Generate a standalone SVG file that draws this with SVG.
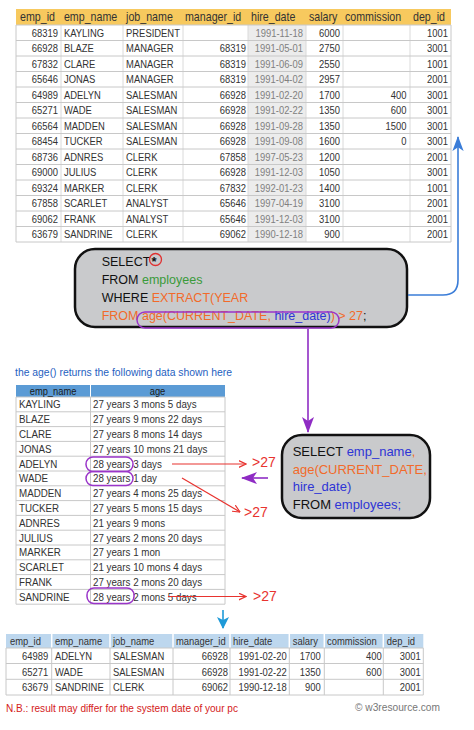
<svg xmlns="http://www.w3.org/2000/svg" width="474" height="730" viewBox="0 0 474 730">
<style>
text{font-family:"Liberation Sans",Arial,sans-serif;fill:#333}
.t1{font-size:11.5px}
.h1{font-size:13px}
.r{text-anchor:end}
.c{text-anchor:middle}
.g{fill:#808080}
.grid{stroke:#c8c8c8;stroke-width:1;fill:none}
.vgrid{stroke:#dadada;stroke-width:1}
.sql{font-size:12.5px;fill:#111}
.sql2{font-size:13px;fill:#111}
.or{fill:#f26a2a}
.bl{fill:#2e35d6}
.gr{fill:#3a9a3a}
.bk{fill:#111}
.red{fill:#e8332f;font-size:14px}
.box{fill:#c9cacc;stroke:#111;stroke-width:2.5}
.pur{fill:none;stroke:#9a35c9;stroke-width:1.5}
</style>
<defs>
<marker id="hb" viewBox="0 0 16 12" refX="15" refY="6" markerWidth="15" markerHeight="12" markerUnits="userSpaceOnUse" orient="auto"><path d="M0,0 L16,6 L0,12 L4,6 z" fill="#3b7dd8"/></marker>
<marker id="hp" viewBox="0 0 16 12" refX="15" refY="6" markerWidth="16" markerHeight="12" markerUnits="userSpaceOnUse" orient="auto"><path d="M0,0 L16,6 L0,12 L4,6 z" fill="#8f2cc4"/></marker>
<marker id="hr" viewBox="0 0 8 8" refX="7.5" refY="4" markerWidth="8" markerHeight="8" markerUnits="userSpaceOnUse" orient="auto"><path d="M0,0.5 L7.5,4 L0,7.5" fill="none" stroke="#e8332f" stroke-width="1.2"/></marker>
<marker id="hl" viewBox="0 0 12 12" refX="11" refY="6" markerWidth="12" markerHeight="12" markerUnits="userSpaceOnUse" orient="auto"><path d="M0,0 L12,6 L0,12 L3,6 z" fill="#1e9ad8"/></marker>
</defs>
<rect width="474" height="730" fill="#fff"/>

<g id="employees-table">
<rect x="16" y="9" width="435" height="16" fill="#f7c95e"/>
<rect x="248" y="25" width="58" height="217" fill="#ececec"/>
<g class="vgrid">
<line x1="61" y1="25" x2="61" y2="242"/><line x1="123" y1="25" x2="123" y2="242"/><line x1="183" y1="25" x2="183" y2="242"/><line x1="248" y1="25" x2="248" y2="242"/><line x1="306" y1="25" x2="306" y2="242"/><line x1="343" y1="25" x2="343" y2="242"/><line x1="410" y1="25" x2="410" y2="242"/>
</g>
<path class="grid" d="M16,25H451M16,40.5H451M16,56H451M16,71.5H451M16,87H451M16,102.5H451M16,118H451M16,133.5H451M16,149H451M16,164.5H451M16,180H451M16,195.5H451M16,211H451M16,226.5H451M16,242H451M16,25V242M451,25V242"/>
<g transform="scale(0.82 1)">
<g class="h1">
<text x="24.4" y="21">emp_id</text><text x="78" y="21">emp_name</text><text x="153.7" y="21">job_name</text><text x="225.6" y="21">manager_id</text><text x="306.1" y="21">hire_date</text><text x="376.8" y="21">salary</text><text x="420.7" y="21">commission</text><text x="503.7" y="21">dep_id</text>
</g>
<g class="t1">
<g transform="translate(0,36.5)"><text class="r" x="70.7">68319</text><text x="78">KAYLING</text><text x="153.7">PRESIDENT</text><text class="r g" x="369.5">1991-11-18</text><text class="r" x="414.6">6000</text><text class="r" x="546.3">1001</text></g>
<g transform="translate(0,52)"><text class="r" x="70.7">66928</text><text x="78">BLAZE</text><text x="153.7">MANAGER</text><text class="r" x="300">68319</text><text class="r g" x="369.5">1991-05-01</text><text class="r" x="414.6">2750</text><text class="r" x="546.3">3001</text></g>
<g transform="translate(0,67.5)"><text class="r" x="70.7">67832</text><text x="78">CLARE</text><text x="153.7">MANAGER</text><text class="r" x="300">68319</text><text class="r g" x="369.5">1991-06-09</text><text class="r" x="414.6">2550</text><text class="r" x="546.3">1001</text></g>
<g transform="translate(0,83)"><text class="r" x="70.7">65646</text><text x="78">JONAS</text><text x="153.7">MANAGER</text><text class="r" x="300">68319</text><text class="r g" x="369.5">1991-04-02</text><text class="r" x="414.6">2957</text><text class="r" x="546.3">2001</text></g>
<g transform="translate(0,98.5)"><text class="r" x="70.7">64989</text><text x="78">ADELYN</text><text x="153.7">SALESMAN</text><text class="r" x="300">66928</text><text class="r g" x="369.5">1991-02-20</text><text class="r" x="414.6">1700</text><text class="r" x="495.7">400</text><text class="r" x="546.3">3001</text></g>
<g transform="translate(0,114)"><text class="r" x="70.7">65271</text><text x="78">WADE</text><text x="153.7">SALESMAN</text><text class="r" x="300">66928</text><text class="r g" x="369.5">1991-02-22</text><text class="r" x="414.6">1350</text><text class="r" x="495.7">600</text><text class="r" x="546.3">3001</text></g>
<g transform="translate(0,129.5)"><text class="r" x="70.7">66564</text><text x="78">MADDEN</text><text x="153.7">SALESMAN</text><text class="r" x="300">66928</text><text class="r g" x="369.5">1991-09-28</text><text class="r" x="414.6">1350</text><text class="r" x="495.7">1500</text><text class="r" x="546.3">3001</text></g>
<g transform="translate(0,145)"><text class="r" x="70.7">68454</text><text x="78">TUCKER</text><text x="153.7">SALESMAN</text><text class="r" x="300">66928</text><text class="r g" x="369.5">1991-09-08</text><text class="r" x="414.6">1600</text><text class="r" x="495.7">0</text><text class="r" x="546.3">3001</text></g>
<g transform="translate(0,160.5)"><text class="r" x="70.7">68736</text><text x="78">ADNRES</text><text x="153.7">CLERK</text><text class="r" x="300">67858</text><text class="r g" x="369.5">1997-05-23</text><text class="r" x="414.6">1200</text><text class="r" x="546.3">2001</text></g>
<g transform="translate(0,176)"><text class="r" x="70.7">69000</text><text x="78">JULIUS</text><text x="153.7">CLERK</text><text class="r" x="300">66928</text><text class="r g" x="369.5">1991-12-03</text><text class="r" x="414.6">1050</text><text class="r" x="546.3">3001</text></g>
<g transform="translate(0,191.5)"><text class="r" x="70.7">69324</text><text x="78">MARKER</text><text x="153.7">CLERK</text><text class="r" x="300">67832</text><text class="r g" x="369.5">1992-01-23</text><text class="r" x="414.6">1400</text><text class="r" x="546.3">1001</text></g>
<g transform="translate(0,207)"><text class="r" x="70.7">67858</text><text x="78">SCARLET</text><text x="153.7">ANALYST</text><text class="r" x="300">65646</text><text class="r g" x="369.5">1997-04-19</text><text class="r" x="414.6">3100</text><text class="r" x="546.3">2001</text></g>
<g transform="translate(0,222.5)"><text class="r" x="70.7">69062</text><text x="78">FRANK</text><text x="153.7">ANALYST</text><text class="r" x="300">65646</text><text class="r g" x="369.5">1991-12-03</text><text class="r" x="414.6">3100</text><text class="r" x="546.3">2001</text></g>
<g transform="translate(0,238)"><text class="r" x="70.7">63679</text><text x="78">SANDRINE</text><text x="153.7">CLERK</text><text class="r" x="300">69062</text><text class="r g" x="369.5">1990-12-18</text><text class="r" x="414.6">900</text><text class="r" x="546.3">2001</text></g>
</g>
</g>
</g>

<g id="query-main">
<rect class="box" x="75" y="249" width="332" height="78" rx="20"/>
<text class="sql" x="101.7" y="266">SELECT<tspan x="151.5" style="font-size:13px;font-weight:bold">*</tspan></text>
<circle cx="155.5" cy="259.5" r="6" fill="none" stroke="#e03030" stroke-width="1.3"/>
<text class="sql" x="101.7" y="284">FROM <tspan class="gr">employees</tspan></text>
<text class="sql" x="101.7" y="302">WHERE <tspan class="or">EXTRACT(YEAR</tspan></text>
<text class="sql" x="101.7" y="320"><tspan class="or">FROM age(CURRENT_DATE, </tspan><tspan class="bl">hire_date)</tspan><tspan class="or">) &gt; 27</tspan><tspan class="bk">;</tspan></text>
<rect class="pur" x="137" y="312" width="202" height="16" rx="8"/>
</g>

<g id="age-table">
<text x="15" y="376" style="font-size:11.5px;fill:#1f5fbf" textLength="217" lengthAdjust="spacingAndGlyphs">the age() returns the following data shown here</text>
<rect x="16" y="385" width="74" height="12" fill="#5b9bd5"/>
<rect x="91" y="385" width="134" height="12" fill="#5b9bd5"/>
<path class="grid" d="M16,397H225M16,411.8H225M16,426.6H225M16,441.4H225M16,456.2H225M16,471H225M16,485.8H225M16,500.6H225M16,515.4H225M16,530.2H225M16,545H225M16,559.8H225M16,574.6H225M16,589.4H225M16,604.2H225M16,397V604.2M90.5,397V604.2M225,397V604.2"/>
<g transform="scale(0.85 1)" style="font-size:11.5px">
<text class="c" x="62.4" y="395" style="font-size:11px;fill:#1a1a1a">emp_name</text><text class="c" x="185.3" y="395" style="font-size:11px;fill:#1a1a1a">age</text>
<text x="22.4" y="408.5">KAYLING</text><text x="109.4" y="408.5">27 years 3 mons 5 days</text>
<text x="22.4" y="423.3">BLAZE</text><text x="109.4" y="423.3">27 years 9 mons 22 days</text>
<text x="22.4" y="438.1">CLARE</text><text x="109.4" y="438.1">27 years 8 mons 14 days</text>
<text x="22.4" y="452.9">JONAS</text><text x="109.4" y="452.9">27 years 10 mons 21 days</text>
<text x="22.4" y="467.7">ADELYN</text><text x="109.4" y="467.7">28 years 3 days</text>
<text x="22.4" y="482.5">WADE</text><text x="109.4" y="482.5">28 years 1 day</text>
<text x="22.4" y="497.3">MADDEN</text><text x="109.4" y="497.3">27 years 4 mons 25 days</text>
<text x="22.4" y="512.1">TUCKER</text><text x="109.4" y="512.1">27 years 5 mons 15 days</text>
<text x="22.4" y="526.9">ADNRES</text><text x="109.4" y="526.9">21 years 9 mons</text>
<text x="22.4" y="541.7">JULIUS</text><text x="109.4" y="541.7">27 years 2 mons 20 days</text>
<text x="22.4" y="556.5">MARKER</text><text x="109.4" y="556.5">27 years 1 mon</text>
<text x="22.4" y="571.3">SCARLET</text><text x="109.4" y="571.3">21 years 10 mons 4 days</text>
<text x="22.4" y="586.1">FRANK</text><text x="109.4" y="586.1">27 years 2 mons 20 days</text>
<text x="22.4" y="600.9">SANDRINE</text><text x="109.4" y="600.9">28 years 2 mons 5 days</text>
</g>
<rect class="pur" x="86" y="457" width="47" height="14.5" rx="7"/>
<rect class="pur" x="86" y="471.5" width="47" height="14" rx="7"/>
<rect class="pur" x="87" y="588" width="47" height="15.5" rx="7"/>
</g>

<g id="query-age">
<rect class="box" x="282" y="435" width="148" height="83" rx="20"/>
<text class="sql2" x="292.7" y="456">SELECT <tspan class="bl">emp_name</tspan><tspan class="or">,</tspan></text>
<text class="sql2 or" x="292.7" y="473.5">age(CURRENT_DATE,</text>
<text class="sql2 bl" x="292.7" y="491">hire_date)</text>
<text class="sql2" x="292.7" y="509">FROM <tspan class="bl">employees;</tspan></text>
</g>

<g id="labels">
<text class="red" x="252" y="467">&gt;27</text>
<text class="red" x="244" y="517">&gt;27</text>
<text class="red" x="253" y="601">&gt;27</text>
</g>

<g id="result-table">
<rect x="6" y="634" width="417.3" height="14" fill="#bdd7ee"/>
<path d="M51.7,634V648M110,634V648M173,634V648M230,634V648M289.3,634V648M324.3,634V648M383.3,634V648" stroke="#fff" stroke-width="1.5"/>
<path class="grid" d="M6,648H423.3M6,663.5H423.3M6,679.3H423.3M6,695H423.3M6,648V695M51.7,648V695M110,648V695M173,648V695M230,648V695M289.3,648V695M324.3,648V695M383.3,648V695M423.3,648V695"/>
<g transform="scale(0.82 1)" style="font-size:11.5px">
<g style="fill:#1a1a1a">
<text x="12.2" y="645">emp_id</text><text x="67.1" y="645">emp_name</text><text x="137.8" y="645">job_name</text><text x="214.6" y="645">manager_id</text><text x="284.1" y="645">hire_date</text><text x="357" y="645">salary</text><text x="398.8" y="645">commission</text><text x="471.6" y="645">dep_id</text>
</g>
<g transform="translate(0,659.8)"><text class="r" x="58.9">64989</text><text x="67.1">ADELYN</text><text x="137.8">SALESMAN</text><text class="r" x="278">66928</text><text class="r" x="349.6">1991-02-20</text><text class="r" x="391.1">1700</text><text class="r" x="465.5">400</text><text class="r" x="513">3001</text></g>
<g transform="translate(0,675.5)"><text class="r" x="58.9">65271</text><text x="67.1">WADE</text><text x="137.8">SALESMAN</text><text class="r" x="278">66928</text><text class="r" x="349.6">1991-02-22</text><text class="r" x="391.1">1350</text><text class="r" x="465.5">600</text><text class="r" x="513">3001</text></g>
<g transform="translate(0,691)"><text class="r" x="58.9">63679</text><text x="67.1">SANDRINE</text><text x="137.8">CLERK</text><text class="r" x="278">69062</text><text class="r" x="349.6">1990-12-18</text><text class="r" x="391.1">900</text><text class="r" x="513">2001</text></g>
</g>
</g>

<g id="notes">
<text x="6" y="711.5" style="font-size:11.5px;fill:#d42020" textLength="232" lengthAdjust="spacingAndGlyphs">N.B.: result may differ for the system date of your pc</text>
<text x="355" y="711" style="font-size:11px;fill:#777" textLength="85" lengthAdjust="spacingAndGlyphs">© w3resource.com</text>
</g>

<g id="connectors" fill="none">
<path d="M408,295 H443 Q458,295 458,280 V137" stroke="#3b7dd8" stroke-width="1.6" marker-end="url(#hb)"/>
<path d="M308,329 V432" stroke="#8f2cc4" stroke-width="1.6" marker-end="url(#hp)"/>
<path d="M268,478 H242" stroke="#8f2cc4" stroke-width="1.6" marker-end="url(#hp)"/>
<path d="M172,464 H246" stroke="#e8332f" stroke-width="1.2" marker-end="url(#hr)"/>
<path d="M182,478 L240,512" stroke="#e8332f" stroke-width="1.2" marker-end="url(#hr)"/>
<path d="M168,596.5 H246" stroke="#e8332f" stroke-width="1.2" marker-end="url(#hr)"/>
<path d="M223,610 V628" stroke="#1e9ad8" stroke-width="1.6" marker-end="url(#hl)"/>
</g>
</svg>
